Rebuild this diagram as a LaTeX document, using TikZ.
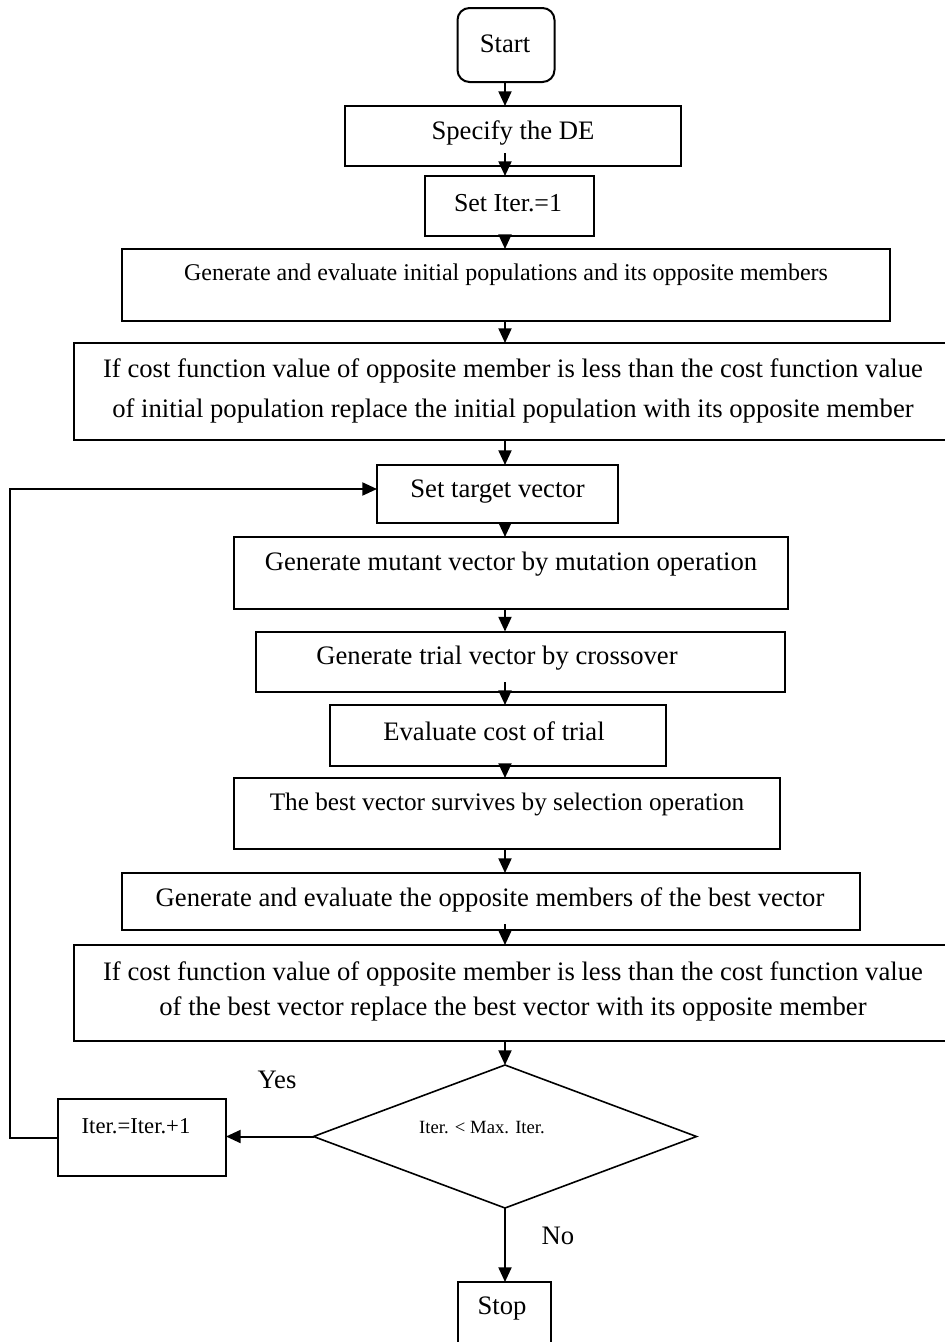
\documentclass[tikz,border=0pt]{standalone}
\usepackage{fontspec}
\setmainfont{Liberation Serif}
\usetikzlibrary{arrows.meta,shapes.geometric}
\begin{document}
\begin{tikzpicture}[x=0.75pt,y=-0.75pt,
  every node/.style={inner sep=0pt,outer sep=0pt},
  box/.style 2 args={draw,line width=1.5pt,rectangle,
    minimum width=#1*0.75pt,minimum height=#2*0.75pt},
  txt/.style={font=\fontsize{20}{30}\selectfont,align=center},
  smtxt/.style={font=\fontsize{18}{22}\selectfont,align=center},
  arr/.style={line width=1.5pt,-{Triangle[length=11pt,width=9.75pt]}},
]
\useasboundingbox (0,0) rectangle (945,1342);
\coordinate (axis) at (505,0);

% process boxes
\node[box={97}{74},rounded corners=9pt] (start) at (506,45) {};
\node[txt] (start-t) at (505,44) {Start};

\node[box={336}{60}] (spec) at (513,136) {};
\node[txt] (spec-t) at (513,133) {Specify the DE};

\node[box={169}{60}] (seti) at (509.5,206) {};
\node[txt,font=\fontsize{19.4}{24}\selectfont] (seti-t) at (508,203) {Set Iter.=1};

\node[box={768}{72}] (geninit) at (506,285) {};
\node[smtxt] (geninit-t) at (506,275) {Generate and evaluate initial populations and its opposite members};

\node[box={876}{97}] (repinit) at (512,391.5) {};
\node[txt] (repinit-t) at (513,391) {If cost function value of opposite member is less than the cost function value\\of initial population replace the initial population with its opposite member};

\node[box={241}{58}] (target) at (497.5,494) {};
\node[txt] (target-t) at (497.5,492) {Set target vector};

\node[box={554}{72}] (mutant) at (511,573) {};
\node[txt] (mutant-t) at (511,564) {Generate mutant vector by mutation operation};

\node[box={529}{60}] (trial) at (520.5,661.5) {};
\node[txt] (trial-t) at (497,658) {Generate trial vector by crossover};

\node[box={336}{61}] (evalc) at (498,735.5) {};
\node[txt] (evalc-t) at (494,731) {Evaluate cost of trial};

\node[box={546}{71}] (best) at (507,813.5) {};
\node[txt,font=\fontsize{18.9}{24}\selectfont] (best-t) at (507,804) {The best vector survives by selection operation};

\node[box={738}{57}] (genopp) at (491,901.5) {};
\node[txt] (genopp-t) at (490,900) {Generate and evaluate the opposite members of the best vector};

\node[box={876}{96}] (repbest) at (512,993) {};
\node[txt,font=\fontsize{20}{26.25}\selectfont] (repbest-t) at (513,991) {If cost function value of opposite member is less than the cost function value\\of the best vector replace the best vector with its opposite member};

% decision
\node[draw,line width=1.2pt,diamond,minimum width=383*0.75pt,minimum height=143*0.75pt] (dia) at (505,1136.5) {};
\node[font=\fontsize{14}{16}\selectfont] (dia-t) at (482,1128) {Iter. < Max. Iter.};

\node[box={168}{77}] (iter) at (142,1137.5) {};
\node[font=\fontsize{17}{20}\selectfont] (iter-t) at (136,1126) {Iter.=Iter.+1};

\node[box={93}{68}] (stop) at (504.5,1316) {};
\node[txt] (stop-t) at (502,1308) {Stop};

% branch labels
\node[txt] (yes) at (277,1080) {Yes};
\node[txt] (no) at (558,1236) {No};

% main flow
\draw[arr] (start.south -| axis) -- (spec.north -| axis);
\draw[arr] ([yshift=9.75pt]spec.south -| axis) -- (seti.north -| axis);
\draw[arr] (seti.south -| axis) -- (geninit.north -| axis);
\draw[arr] (geninit.south -| axis) -- (repinit.north -| axis);
\draw[arr] (repinit.south -| axis) -- (target.north -| axis);
\draw[arr] (target.south -| axis) -- (mutant.north -| axis);
\draw[arr] (mutant.south -| axis) -- (trial.north -| axis);
\draw[arr] ([yshift=7pt]trial.south -| axis) -- (evalc.north -| axis);
\draw[arr] (evalc.south -| axis) -- (best.north -| axis);
\draw[arr] (best.south -| axis) -- (genopp.north -| axis);
\draw[arr] ([yshift=4.5pt]genopp.south -| axis) -- (repbest.north -| axis);
\draw[arr] (repbest.south -| axis) -- (dia.north);
\draw[arr] (dia.south) -- (stop.north -| dia.south);
\draw[arr] (dia.west) -- (iter.east |- dia.west);

% loop back to the target vector
\coordinate (loopdn) at (10,1137.5);
\coordinate (loopup) at (10,489);
\coordinate (tgtin) at (target.west |- loopup);
\draw[arr] (iter.west) -- (loopdn) -- (loopup) -- (tgtin);
\end{tikzpicture}
\end{document}
